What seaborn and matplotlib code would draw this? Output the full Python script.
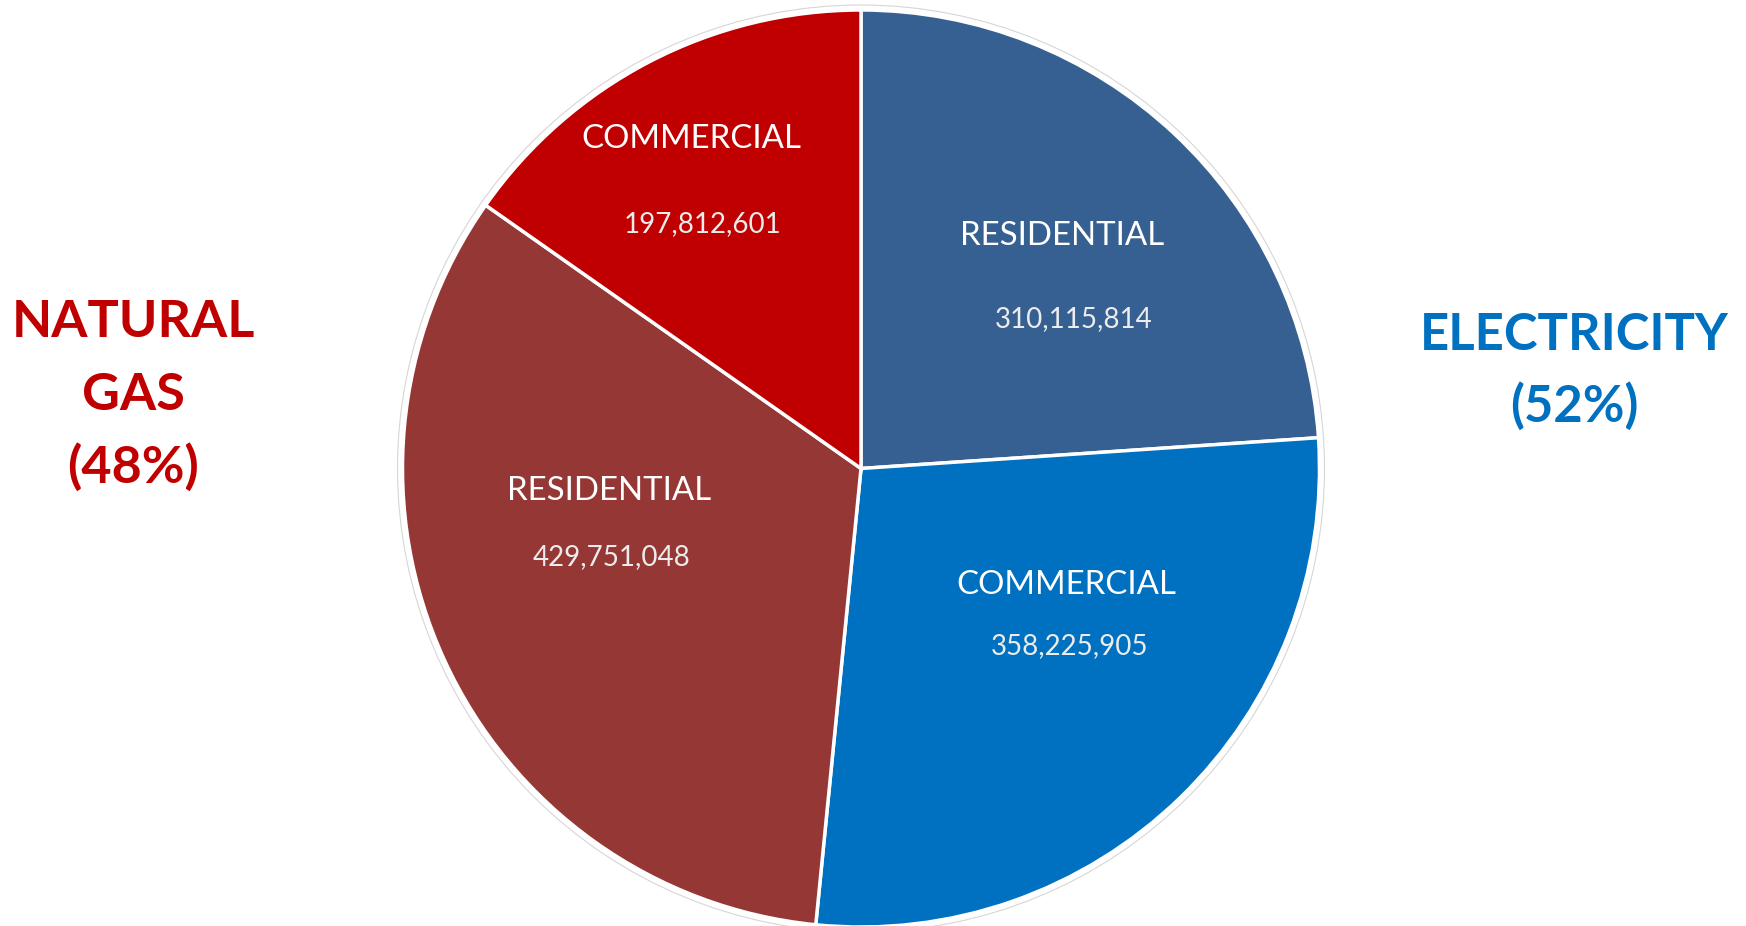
import matplotlib
matplotlib.use("Agg")
import matplotlib.pyplot as plt
from matplotlib.patches import Circle
import seaborn as sns

# Energy use by fuel and sector
sectors = ["RESIDENTIAL", "COMMERCIAL", "RESIDENTIAL", "COMMERCIAL"]
fuels = ["ELECTRICITY", "ELECTRICITY", "NATURAL GAS", "NATURAL GAS"]
usage = [310115814, 358225905, 429751048, 197812601]
slice_colors = ["#376092", "#0070C0", "#953735", "#C00000"]

fuel_names = ["ELECTRICITY", "NATURAL\nGAS"]
fuel_colors = ["#0070C0", "#C00000"]

# label anchors in units of the pie radius (x centre, text baseline)
sector_label_xy = [(0.438, 0.487), (0.447, -0.273), (-0.550, -0.068), (-0.369, 0.700)]
value_label_xy = [(0.465, 0.309), (0.454, -0.405), (-0.545, -0.210), (-0.345, 0.516)]

sns.set_theme(style="white")
plt.rcParams["font.family"] = ["Lato", "DejaVu Sans"]

W, H, DPI = 1746, 926, 100
fig = plt.figure(figsize=(W / DPI, H / DPI), dpi=DPI, facecolor="white")
ax = fig.add_axes([0, 0, 1, 1])
ax.set_facecolor("white")

# pie centre and radius in pixels
cx, cy, r = 861.0, 468.5, 458.5

ax.pie(usage, colors=slice_colors, startangle=90, counterclock=False,
       radius=1.0, center=(0, 0), frame=False,
       wedgeprops=dict(edgecolor="white", linewidth=2.5))
ax.set_xlim(-cx / r, (W - cx) / r)
ax.set_ylim(-(H - cy) / r, cy / r)
ax.set_aspect("auto")
ax.axis("off")

# faint outline around the whole pie
ax.add_patch(Circle((0, 0), 1 + 5 / r, fill=False, edgecolor="#d6d6d6",
                    linewidth=0.8, zorder=0))

for name, val, (lx, ly), (vx, vy) in zip(sectors, usage, sector_label_xy, value_label_xy):
    ax.text(lx, ly, name, ha="center", va="baseline", fontsize=23.8,
            color="white")
    ax.text(vx, vy, f"{val:,}", ha="center", va="baseline", fontsize=20,
            color="#ececec")

# fuel totals
total = sum(usage)
elec_share = round(100 * sum(v for v, f in zip(usage, fuels) if f == "ELECTRICITY") / total)
gas_share = round(100 * sum(v for v, f in zip(usage, fuels) if f == "NATURAL GAS") / total)

def px(x, y):
    return x / W, 1 - y / H

for line, yb in zip(["NATURAL", "GAS", f"({gas_share}%)"], [337, 410, 483]):
    fig.text(*px(133, yb), line, ha="center", va="baseline", fontsize=37.5,
             fontweight="bold", color=fuel_colors[1])
for line, yb in zip(["ELECTRICITY", f"({elec_share}%)"], [350, 422]):
    fig.text(*px(1574, yb), line, ha="center", va="baseline", fontsize=36.5,
             fontweight="bold", color=fuel_colors[0])

fig.savefig("out.png", dpi=DPI, facecolor="white")
